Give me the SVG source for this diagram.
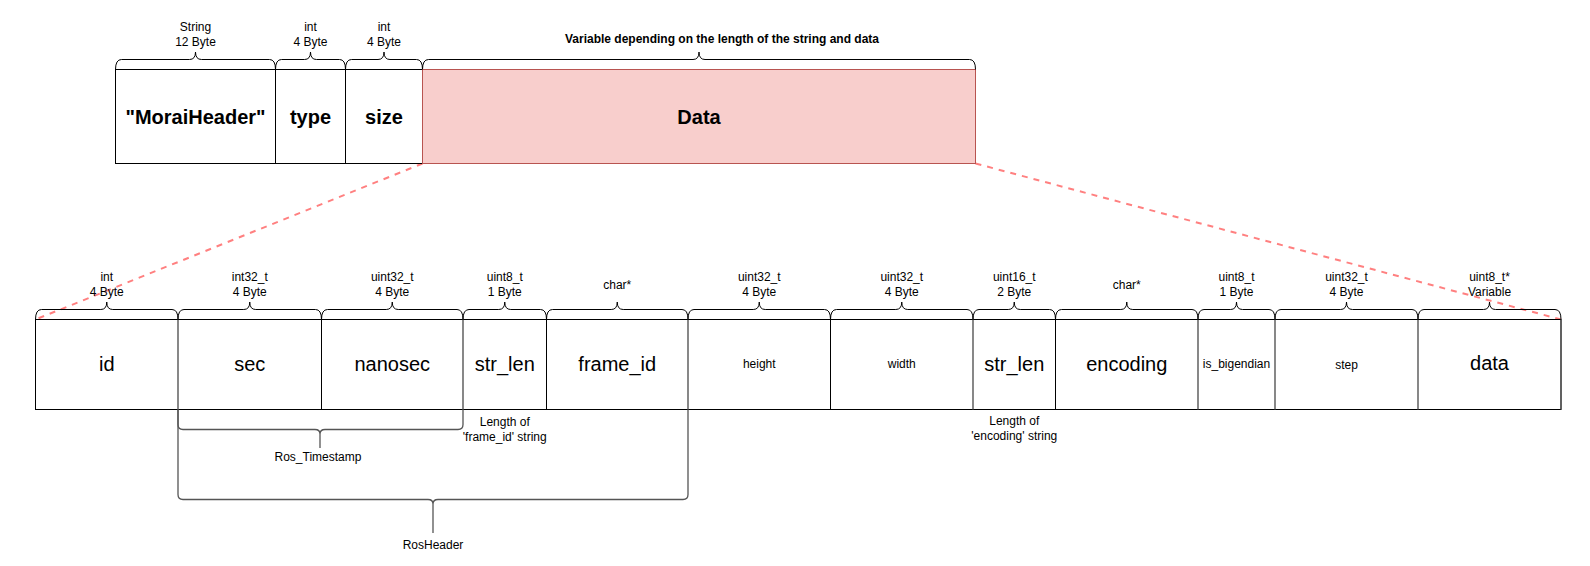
<svg xmlns="http://www.w3.org/2000/svg" width="1590" height="566" viewBox="0 0 1590 566">
<style>
text{font-family:"Liberation Sans",Arial,Helvetica,sans-serif;fill:#000;text-anchor:middle}
.s{font-size:12px}
.sb{font-size:12px;font-weight:bold}
.big{font-size:20px;font-weight:bold}
.mid{font-size:20px}
.cell{fill:#fff;stroke:#000;stroke-width:1}
.data{fill:#f8cecc;stroke:#b85450;stroke-width:1}
.br{fill:none;stroke:#000;stroke-width:1}
.brg{fill:none;stroke:#555;stroke-width:1.3}
.div{stroke:#000;stroke-width:1}
.divg{stroke:#555;stroke-width:1.4}
.dash{fill:none;stroke:#ff8080;stroke-width:2;stroke-dasharray:6 6}
</style>
<rect width="1590" height="566" fill="#fff"/>

<g id="connectors">
<path class="dash" d="M422.5,163.5 L35.5,319.5"/>
<path class="dash" d="M975.5,163.5 L1561,319.5"/>
</g>

<!-- Top row -->
<g id="moraiheader">
<rect class="cell" x="115.5" y="69.5" width="160" height="94"/>
<text class="big" x="195.5" y="124">"MoraiHeader"</text>
<path class="br" d="M115.5,69.5 Q115.5,59.5 121.5,59.5 L189.5,59.5 Q195.5,59.5 195.5,52 Q195.5,59.5 201.5,59.5 L269.5,59.5 Q275.5,59.5 275.5,69.5"/>
<text class="s" x="195.5" y="31">String</text>
<text class="s" x="195.5" y="46">12 Byte</text>
</g>
<g id="type">
<rect class="cell" x="275.5" y="69.5" width="70" height="94"/>
<text class="big" x="310.5" y="124">type</text>
<path class="br" d="M275.5,69.5 Q275.5,59.5 281.5,59.5 L304.5,59.5 Q310.5,59.5 310.5,52 Q310.5,59.5 316.5,59.5 L339.5,59.5 Q345.5,59.5 345.5,69.5"/>
<text class="s" x="310.5" y="31">int</text>
<text class="s" x="310.5" y="46">4 Byte</text>
</g>
<g id="size">
<rect class="cell" x="345.5" y="69.5" width="77" height="94"/>
<text class="big" x="384" y="124">size</text>
<path class="br" d="M345.5,69.5 Q345.5,59.5 351.5,59.5 L378,59.5 Q384,59.5 384,52 Q384,59.5 390,59.5 L416.5,59.5 Q422.5,59.5 422.5,69.5"/>
<text class="s" x="384" y="31">int</text>
<text class="s" x="384" y="46">4 Byte</text>
</g>
<g id="data-top">
<rect class="data" x="422.5" y="69.5" width="553" height="94"/>
<text class="big" x="699" y="124">Data</text>
<path class="br" d="M422.5,69.5 Q422.5,59.5 428.5,59.5 L693,59.5 Q699,59.5 699,52 Q699,59.5 705,59.5 L969.5,59.5 Q975.5,59.5 975.5,69.5"/>
<text class="sb" x="722" y="42.5">Variable depending on the length of the string and data</text>
</g>

<!-- Bottom row -->
<g id="bottom-row">
<rect class="cell" x="35.5" y="319.5" width="1525.5" height="90"/>
<line class="divg" x1="178" y1="319.5" x2="178" y2="409.5"/>
<line class="div" x1="321.5" y1="319.5" x2="321.5" y2="409.5"/>
<line class="divg" x1="463" y1="319.5" x2="463" y2="409.5"/>
<line class="div" x1="546.5" y1="319.5" x2="546.5" y2="409.5"/>
<line class="divg" x1="688" y1="319.5" x2="688" y2="409.5"/>
<line class="div" x1="830.5" y1="319.5" x2="830.5" y2="409.5"/>
<line class="divg" x1="973" y1="319.5" x2="973" y2="409.5"/>
<line class="div" x1="1055.5" y1="319.5" x2="1055.5" y2="409.5"/>
<line class="divg" x1="1198" y1="319.5" x2="1198" y2="409.5"/>
<line class="divg" x1="1275" y1="319.5" x2="1275" y2="409.5"/>
<line class="divg" x1="1418" y1="319.5" x2="1418" y2="409.5"/>
<line class="divg" x1="1561" y1="319.5" x2="1561" y2="409.5"/>
</g>

<g id="f-id">
<text class="mid" x="106.75" y="371">id</text>
<path class="br" d="M35.5,319.5 Q35.5,309.5 41.5,309.5 L100.75,309.5 Q106.75,309.5 106.75,302 Q106.75,309.5 112.75,309.5 L172,309.5 Q178,309.5 178,319.5"/>
<text class="s" x="106.75" y="281">int</text>
<text class="s" x="106.75" y="296">4 Byte</text>
</g>
<g id="f-sec">
<text class="mid" x="249.75" y="371">sec</text>
<path class="br" d="M178,319.5 Q178,309.5 184,309.5 L243.75,309.5 Q249.75,309.5 249.75,302 Q249.75,309.5 255.75,309.5 L315.5,309.5 Q321.5,309.5 321.5,319.5"/>
<text class="s" x="249.75" y="281">int32_t</text>
<text class="s" x="249.75" y="296">4 Byte</text>
</g>
<g id="f-nanosec">
<text class="mid" x="392.25" y="371">nanosec</text>
<path class="br" d="M321.5,319.5 Q321.5,309.5 327.5,309.5 L386.25,309.5 Q392.25,309.5 392.25,302 Q392.25,309.5 398.25,309.5 L457,309.5 Q463,309.5 463,319.5"/>
<text class="s" x="392.25" y="281">uint32_t</text>
<text class="s" x="392.25" y="296">4 Byte</text>
</g>
<g id="f-strlen1">
<text class="mid" x="504.75" y="371">str_len</text>
<path class="br" d="M463,319.5 Q463,309.5 469,309.5 L498.75,309.5 Q504.75,309.5 504.75,302 Q504.75,309.5 510.75,309.5 L540.5,309.5 Q546.5,309.5 546.5,319.5"/>
<text class="s" x="504.75" y="281">uint8_t</text>
<text class="s" x="504.75" y="296">1 Byte</text>
<text class="s" x="504.75" y="426">Length of</text>
<text class="s" x="504.75" y="441">'frame_id' string</text>
</g>
<g id="f-frameid">
<text class="mid" x="617.25" y="371">frame_id</text>
<path class="br" d="M546.5,319.5 Q546.5,309.5 552.5,309.5 L611.25,309.5 Q617.25,309.5 617.25,302 Q617.25,309.5 623.25,309.5 L682,309.5 Q688,309.5 688,319.5"/>
<text class="s" x="617.25" y="288.5">char*</text>
</g>
<g id="f-height">
<text class="s" x="759.25" y="368.3">height</text>
<path class="br" d="M688,319.5 Q688,309.5 694,309.5 L753.25,309.5 Q759.25,309.5 759.25,302 Q759.25,309.5 765.25,309.5 L824.5,309.5 Q830.5,309.5 830.5,319.5"/>
<text class="s" x="759.25" y="281">uint32_t</text>
<text class="s" x="759.25" y="296">4 Byte</text>
</g>
<g id="f-width">
<text class="s" x="901.75" y="368.3">width</text>
<path class="br" d="M830.5,319.5 Q830.5,309.5 836.5,309.5 L895.75,309.5 Q901.75,309.5 901.75,302 Q901.75,309.5 907.75,309.5 L967,309.5 Q973,309.5 973,319.5"/>
<text class="s" x="901.75" y="281">uint32_t</text>
<text class="s" x="901.75" y="296">4 Byte</text>
</g>
<g id="f-strlen2">
<text class="mid" x="1014.25" y="371">str_len</text>
<path class="br" d="M973,319.5 Q973,309.5 979,309.5 L1008.25,309.5 Q1014.25,309.5 1014.25,302 Q1014.25,309.5 1020.25,309.5 L1049.5,309.5 Q1055.5,309.5 1055.5,319.5"/>
<text class="s" x="1014.25" y="281">uint16_t</text>
<text class="s" x="1014.25" y="296">2 Byte</text>
<text class="s" x="1014.25" y="425">Length of</text>
<text class="s" x="1014.25" y="440">'encoding' string</text>
</g>
<g id="f-encoding">
<text class="mid" x="1126.75" y="371">encoding</text>
<path class="br" d="M1055.5,319.5 Q1055.5,309.5 1061.5,309.5 L1120.75,309.5 Q1126.75,309.5 1126.75,302 Q1126.75,309.5 1132.75,309.5 L1192,309.5 Q1198,309.5 1198,319.5"/>
<text class="s" x="1126.75" y="288.5">char*</text>
</g>
<g id="f-isbigendian">
<text class="s" x="1236.5" y="368.3">is_bigendian</text>
<path class="br" d="M1198,319.5 Q1198,309.5 1204,309.5 L1230.5,309.5 Q1236.5,309.5 1236.5,302 Q1236.5,309.5 1242.5,309.5 L1269,309.5 Q1275,309.5 1275,319.5"/>
<text class="s" x="1236.5" y="281">uint8_t</text>
<text class="s" x="1236.5" y="296">1 Byte</text>
</g>
<g id="f-step">
<text class="s" x="1346.5" y="369">step</text>
<path class="br" d="M1275,319.5 Q1275,309.5 1281,309.5 L1340.5,309.5 Q1346.5,309.5 1346.5,302 Q1346.5,309.5 1352.5,309.5 L1412,309.5 Q1418,309.5 1418,319.5"/>
<text class="s" x="1346.5" y="281">uint32_t</text>
<text class="s" x="1346.5" y="296">4 Byte</text>
</g>
<g id="f-data">
<text class="mid" x="1489.5" y="370">data</text>
<path class="br" d="M1418,319.5 Q1418,309.5 1424,309.5 L1483.5,309.5 Q1489.5,309.5 1489.5,302 Q1489.5,309.5 1495.5,309.5 L1555,309.5 Q1561,309.5 1561,319.5"/>
<text class="s" x="1489.5" y="281">uint8_t*</text>
<text class="s" x="1489.5" y="296">Variable</text>
</g>

<g id="ros-timestamp">
<path class="brg" d="M178,409.5 L178,424.5 Q178,429.5 183,429.5 L315,429.5 Q320,429.5 320,434 Q320,429.5 325,429.5 L458,429.5 Q463,429.5 463,424.5 L463,409.5"/>
<line class="brg" x1="320" y1="434" x2="320" y2="448"/>
<text class="s" x="318" y="460.5">Ros_Timestamp</text>
</g>
<g id="rosheader">
<path class="brg" d="M178,409.5 L178,494.5 Q178,499.5 183,499.5 L428,499.5 Q433,499.5 433,504 Q433,499.5 438,499.5 L683,499.5 Q688,499.5 688,494.5 L688,409.5"/>
<line class="brg" x1="433" y1="504" x2="433" y2="533"/>
<text class="s" x="433" y="548.5">RosHeader</text>
</g>
</svg>
